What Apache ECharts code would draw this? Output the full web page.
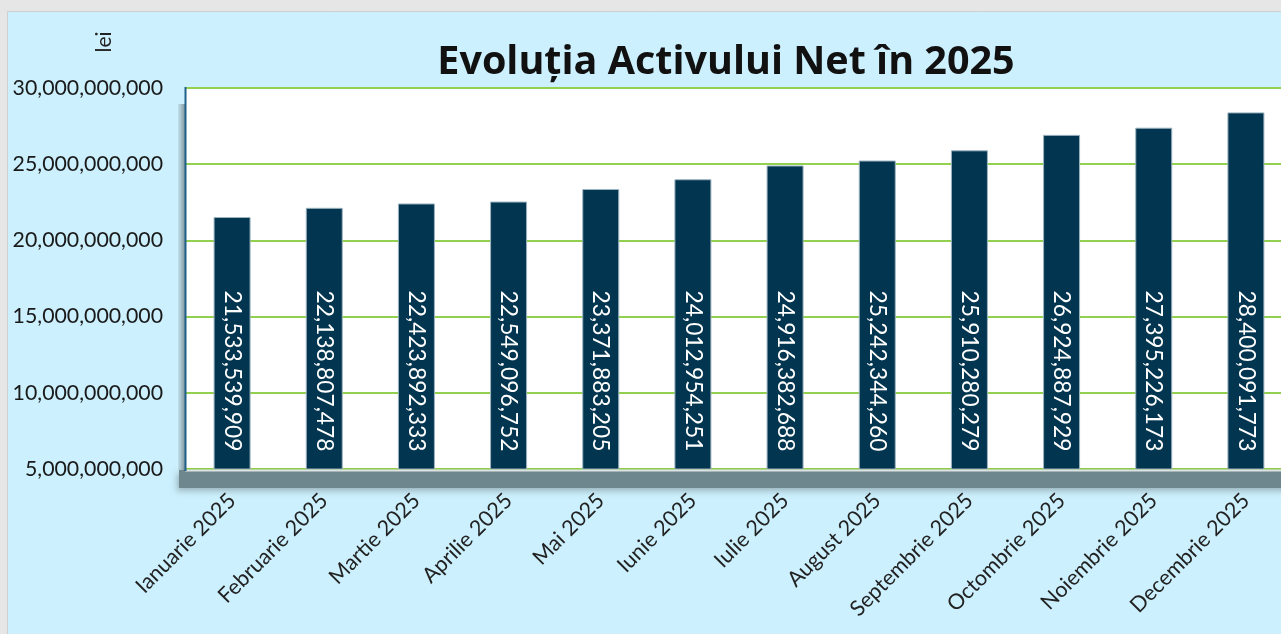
<!DOCTYPE html>
<html>
<head>
<meta charset="utf-8">
<style>
html,body{margin:0;padding:0;background:#e6e6e6;overflow:hidden;}
#c{width:1300px;height:634px;}
</style>
<script src="https://cdn.jsdelivr.net/npm/echarts@6/dist/echarts.min.js"></script>
</head>
<body>
<div id="c"></div>
<script>
const categories = ["Ianuarie 2025","Februarie 2025","Martie 2025","Aprilie 2025","Mai 2025","Iunie 2025","Iulie 2025","August 2025","Septembrie 2025","Octombrie 2025","Noiembrie 2025","Decembrie 2025"];
const values = [21533539909,22138807478,22423892333,22549096752,23371883205,24012954251,24916382688,25242344260,25910280279,26924887929,27395226173,28400091773];
const titleText = "Evoluția Activului Net în 2025";
const unitText = "lei";
const yMin = 5000000000, yMax = 30000000000, yStep = 5000000000;

const fmt = v => Math.round(v).toString().replace(/\B(?=(\d{3})+(?!\d))/g, ",");
const FONT = "Lato";

const chart = echarts.init(document.getElementById('c'), null, {renderer:'canvas'});
chart.setOption({
  backgroundColor: '#e6e6e6',
  animation: false,
  title: {
    text: titleText, left: 721, top: 38, textAlign: 'center',
    textStyle: {fontFamily: 'Open Sans', fontWeight: 'bold', fontSize: 39.5, color: '#111'}
  },
  graphic: [
    {type:'rect', z:-10, shape:{x:7.5,y:11.5,width:1320,height:700}, style:{fill:'#ccf0fd', stroke:'#cfcfcf', lineWidth:1}},
    {type:'rect', z:-5, shape:{x:178,y:104,width:8,height:366},
      style:{fill:{type:'linear',x:0,y:0,x2:1,y2:0,colorStops:[{offset:0,color:'rgba(120,135,140,0.15)'},{offset:1,color:'rgba(100,115,120,0.85)'}]}}},
    {type:'rect', z:5, shape:{x:179,y:470,width:1130,height:18},
      style:{fill:'#6e868d', shadowBlur:6, shadowColor:'rgba(0,0,0,0.25)', shadowOffsetX:-2, shadowOffsetY:3}},
    {type:'line', z:6, shape:{x1:185,y1:470.5,x2:1310,y2:470.5}, style:{stroke:'#dde2e4', lineWidth:2}},
    {type:'line', z:6, shape:{x1:185.5,y1:87,x2:185.5,y2:471}, style:{stroke:'#1f6189', lineWidth:2}},
    {type:'text', z:6, x:104, y:42, rotation: Math.PI/2,
      style:{text:unitText, fontFamily:FONT, fontSize:21, fill:'#222', align:'center', verticalAlign:'middle'}}
  ],
  grid: {left:186, top:88, width:1106, height:381, show:true, backgroundColor:'#ffffff', borderWidth:0, containLabel:false},
  xAxis: {
    type:'category', data: categories,
    axisLine:{show:false}, axisTick:{show:false},
    axisLabel:{rotate:45, margin:28, fontFamily:FONT, fontSize:21.5, color:'#222', interval:0}
  },
  yAxis: {
    type:'value', min:yMin, max:yMax, interval:yStep,
    axisLine:{show:false}, axisTick:{show:false},
    splitLine:{show:true, lineStyle:{color:'#92d050', width:2}},
    axisLabel:{margin:23, fontFamily:FONT, fontSize:21.3, color:'#1a1a1a', formatter: v => fmt(v)}
  },
  series: [{
    type:'bar', data: values, barWidth: 37,
    itemStyle:{color:'#02354f', borderColor:'#9db4c1', borderWidth:1},
    label:{
      show:true, position:'insideBottom', rotate:-90, align:'right', verticalAlign:'middle', distance:18,
      formatter: p => fmt(p.value), color:'#ffffff', fontFamily:FONT, fontSize:22.8
    }
  }]
});
</script>
</body>
</html>
